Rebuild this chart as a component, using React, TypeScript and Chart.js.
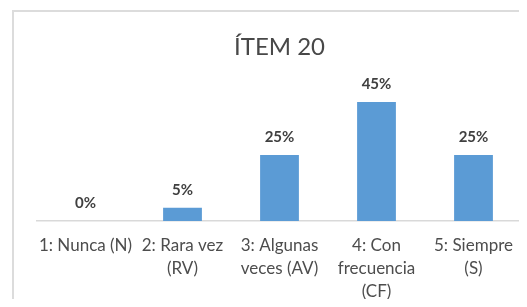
import React, { useEffect, useRef } from "react";
import { Chart, registerables } from "chart.js";

Chart.register(...registerables);

const chartTitle = "ÍTEM 20";
const categories: string[][] = [
  ["1: Nunca (N)"],
  ["2: Rara vez", "(RV)"],
  ["3: Algunas", "veces (AV)"],
  ["4: Con", "frecuencia", "(CF)"],
  ["5: Siempre", "(S)"],
];
const percentages: number[] = [0, 5, 25, 45, 25];
const yMin = 0;
const yMax = 50;

const FONT = "Lato, 'Open Sans', sans-serif";

const dataLabelPlugin = {
  id: "dataLabels",
  afterDatasetsDraw(chart: any) {
    const ctx = chart.ctx;
    const meta = chart.getDatasetMeta(0);
    ctx.save();
    ctx.font = `bold 15px ${FONT}`;
    ctx.fillStyle = "#404040";
    ctx.textAlign = "center";
    ctx.textBaseline = "middle";
    meta.data.forEach((bar: any, i: number) => {
      ctx.fillText(`${percentages[i]}%`, bar.x, bar.y - 18);
    });
    ctx.restore();
  },
};

export default function App() {
  const ref = useRef<HTMLCanvasElement | null>(null);
  useEffect(() => {
    if (!ref.current) return;
    const chart = new Chart(ref.current, {
      type: "bar",
      data: {
        labels: categories as any,
        datasets: [
          {
            data: percentages,
            backgroundColor: "#5b9bd5",
            barPercentage: 0.4,
            categoryPercentage: 1,
          },
        ],
      },
      options: {
        animation: false,
        responsive: false,
        maintainAspectRatio: false,
        layout: { padding: { left: 23, right: 5, top: 0, bottom: 0 } },
        plugins: {
          legend: { display: false },
          tooltip: { enabled: false },
          title: {
            display: true,
            text: chartTitle,
            color: "#484848",
            font: { family: FONT, size: 24, weight: "normal", lineHeight: 1.2 },
            padding: { top: 21, bottom: 27 },
          },
        },
        scales: {
          x: {
            grid: { display: false, drawTicks: false },
            border: { display: true, color: "#d9d9d9", width: 1.5 },
            ticks: {
              color: "#4d4d4d",
              font: { family: FONT, size: 17, lineHeight: "23px" as any },
              padding: 13,
              maxRotation: 0,
              autoSkip: false,
            },
            afterFit: (scale: any) => {
              scale.height = 86;
            },
          },
          y: {
            display: false,
            min: yMin,
            max: yMax,
          },
        },
      },
      plugins: [dataLabelPlugin],
    });
    return () => chart.destroy();
  }, []);

  return (
    <div style={{ position: "relative", width: 527, height: 307, margin: -8, overflow: "hidden", background: "#fff" }}>
      <div style={{ position: "absolute", left: 18, top: -10, width: 600, height: 14, border: "2px solid #dcdcdc", boxSizing: "border-box" }} />
      <div style={{ position: "absolute", left: 12, top: 10, width: 600, height: 400, border: "2px solid #dcdcdc", boxSizing: "border-box" }} />
      <canvas ref={ref} width={513} height={295} style={{ position: "absolute", left: 14, top: 12, width: 513, height: 295 }} />
    </div>
  );
}
